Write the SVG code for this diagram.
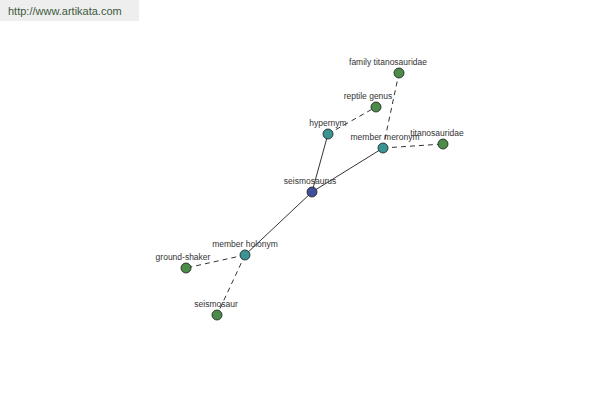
<svg xmlns="http://www.w3.org/2000/svg" width="600" height="400" viewBox="0 0 600 400">
<style>
.lbl{font-family:"Liberation Sans",Arial,sans-serif;font-size:8.5px;fill:#333;text-anchor:middle}
.g{fill:#4a8c48;stroke:#1a1a1a;stroke-width:0.8}
.t{fill:#3a9494;stroke:#1a1a1a;stroke-width:0.8}
.b{fill:#3f4f9c;stroke:#1a1a1a;stroke-width:0.8}
.s{stroke:#000;stroke-width:0.8;fill:none}
.d{stroke:#000;stroke-width:0.8;fill:none;stroke-dasharray:5,4}
</style>
<rect width="600" height="400" fill="#fff"/>
<rect x="0" y="0" width="139" height="21" fill="#eeeeee"/>
<text x="8" y="15" style="font-family:'Liberation Sans',Arial,sans-serif;font-size:11px;fill:#3d5a3d">http://www.artikata.com</text>
<g id="connectors">
<line class="s" x1="312" y1="192" x2="328" y2="134"/>
<line class="s" x1="312" y1="192" x2="383" y2="148"/>
<line class="s" x1="312" y1="192" x2="245" y2="255"/>
<line class="d" x1="328" y1="134" x2="376" y2="107"/>
<line class="d" x1="383" y1="148" x2="399" y2="73"/>
<line class="d" x1="383" y1="148" x2="443" y2="144"/>
<line class="d" x1="245" y1="255" x2="186" y2="268"/>
<line class="d" x1="245" y1="255" x2="217" y2="315"/>
</g>
<g id="family-titanosauridae"><circle class="g" cx="399" cy="73" r="5"/><text class="lbl" x="388" y="65">family titanosauridae</text></g>
<g id="reptile-genus"><circle class="g" cx="376" cy="107" r="5"/><text class="lbl" x="368" y="99">reptile genus</text></g>
<g id="hypernym"><circle class="t" cx="328" cy="134" r="5"/><text class="lbl" x="328" y="126">hypernym</text></g>
<g id="member-meronym"><circle class="t" cx="383" cy="148" r="5"/><text class="lbl" x="385" y="140">member meronym</text></g>
<g id="titanosauridae"><circle class="g" cx="443" cy="144" r="5"/><text class="lbl" x="437" y="136">titanosauridae</text></g>
<g id="seismosaurus"><circle class="b" cx="312" cy="192" r="5"/><text class="lbl" x="310" y="184">seismosaurus</text></g>
<g id="member-holonym"><circle class="t" cx="245" cy="255" r="5"/><text class="lbl" x="245" y="247">member holonym</text></g>
<g id="ground-shaker"><circle class="g" cx="186" cy="268" r="5"/><text class="lbl" x="183" y="260">ground-shaker</text></g>
<g id="seismosaur"><circle class="g" cx="217" cy="315" r="5"/><text class="lbl" x="216" y="307">seismosaur</text></g>
</svg>
